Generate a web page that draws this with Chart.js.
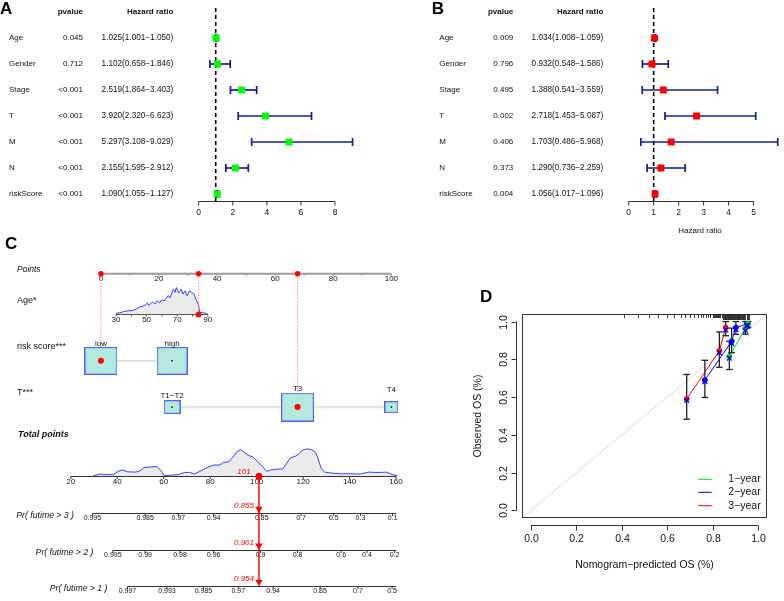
<!DOCTYPE html>
<html>
<head>
<meta charset="utf-8">
<title>Cox regression, nomogram and calibration</title>
<script src="https://cdn.jsdelivr.net/npm/chart.js@4.4.1/dist/chart.umd.min.js"></script>
<style>
  html, body { margin:0; padding:0; background:#ffffff; }
  #figure { position:relative; width:784px; height:601px; overflow:hidden; background:#ffffff; }
  #figure canvas { position:absolute; display:block; }
</style>
</head>
<body>
<div id="figure">
  <canvas id="panelA" width="392" height="230" style="left:0px;top:0px;"></canvas>
  <canvas id="panelB" width="392" height="240" style="left:392px;top:0px;"></canvas>
  <canvas id="panelC" width="420" height="371" style="left:0px;top:230px;"></canvas>
  <canvas id="panelD" width="364" height="321" style="left:420px;top:280px;"></canvas>
</div>
<script>
// ======================= DATA =======================
// Panel A / B : Cox regression
const variables = ['Age', 'Gender', 'Stage', 'T', 'M', 'N', 'riskScore'];

const uniPvalue = ['0.045', '0.712', '<0.001', '<0.001', '<0.001', '<0.001', '<0.001'];
const uniHR   = [1.025, 1.102, 2.519, 3.920, 5.297, 2.155, 1.090];
const uniLow  = [1.001, 0.658, 1.864, 2.320, 3.108, 1.595, 1.055];
const uniHigh = [1.050, 1.846, 3.403, 6.623, 9.029, 2.912, 1.127];
const uniTicks = [0, 2, 4, 6, 8];

const multiPvalue = ['0.009', '0.796', '0.495', '0.002', '0.406', '0.373', '0.004'];
const multiHR   = [1.034, 0.932, 1.388, 2.718, 1.703, 1.290, 1.056];
const multiLow  = [1.008, 0.548, 0.541, 1.453, 0.486, 0.736, 1.017];
const multiHigh = [1.059, 1.586, 3.559, 5.087, 5.968, 2.259, 1.096];
const multiTicks = [0, 1, 2, 3, 4, 5];

// Panel C : nomogram
const nomoRowNames = ['Points', 'Age*', 'risk score***', 'T***', 'Total points'];
const pointsTicks  = [0, 10, 20, 30, 40, 50, 60, 70, 80, 90, 100];
const pointsLabels = [0, 20, 40, 60, 80, 100];
const ageTicks  = [30, 40, 50, 60, 70, 80, 90];
const ageLabels = [30, 50, 70, 90];
const ageRange = [30, 90];
const agePointsRange = [5.2, 36.8];
const ageDensAge = [30, 32.5, 34.6, 37.8, 41, 43.1, 45.2, 47.3, 49.4, 50.5, 51.6, 53.7, 55.4, 56.8, 58.3, 60, 61.7, 63.2, 64.2, 65.3, 66.3, 67.4, 68.5, 69.5, 71, 72.7, 73.7, 75.2, 76.5, 78, 79.4, 81.1, 82.2, 83.7, 84.7, 86.4, 88.5, 90];
const ageDensVal = [1, 1.7, 2.7, 3.7, 4, 5.3, 7.7, 8.3, 10, 11.7, 9.3, 12.7, 10.7, 14, 12, 15, 14, 17.7, 19.3, 17, 21, 26, 22.7, 27.7, 22, 26, 21, 24.3, 19.3, 24.3, 22.7, 21, 15.3, 11, 2.7, 1.7, 1.3, 0];
const riskLevels = ['low', 'high'];
const riskPoints = [0, 24.5];
const tLevels = ['T1\u2212T2', 'T3', 'T4'];
const tPoints = [24.5, 67.7, 100];
const totalLabels = [20, 40, 60, 80, 100, 120, 140, 160];
const totDensX = [29.5, 30.5, 32.6, 35.4, 38.2, 40.3, 42.1, 44.5, 48, 50.1, 51.5, 54.3, 57.1, 58.5, 60.3, 62, 66.2, 69, 71.1, 73.2, 76, 78.8, 81.6, 84.1, 85.8, 87.9, 89.3, 91.4, 93.1, 94.5, 96.3, 98.4, 100.5, 102.6, 104.3, 106.1, 108.9, 111.3, 112.4, 114.5, 116.9, 118.3, 119.4, 121.5, 123.6, 125.3, 126.4, 127.8, 129.2, 132, 136.2, 140.4, 144.6, 148.1, 150.9, 153.7, 155.8, 158.6, 160.7];
const totDensVal = [0.3, 1, 2.3, 1.7, 1.7, 5, 6.6, 4.6, 4.3, 6, 9, 9.6, 10, 6.6, 0.6, 1, 1.7, 4, 4, 2.3, 5.6, 9.3, 11.6, 11.6, 14.3, 15, 18.3, 25, 27.6, 25, 21.6, 20, 15, 10, 5, 6.6, 7.3, 7.6, 11.6, 19, 21, 23.3, 26.6, 28.3, 27.6, 25, 18.3, 8.3, 4.3, 3.3, 2.6, 2.6, 2.3, 4.3, 4, 4, 4.3, 1.6, 0.6];
const prNames = ['Pr( futime > 3 )', 'Pr( futime > 2 )', 'Pr( futime > 1 )'];
const pr3Labels = ['0.995', '0.985', '0.97', '0.94', '0.85', '0.7', '0.5', '0.3', '0.1'];
const pr3At     = [29.3, 52.0, 66.3, 81.5, 102.2, 119.1, 133.2, 144.7, 158.5];
const pr2Labels = ['0.995', '0.99', '0.98', '0.96', '0.9', '0.8', '0.6', '0.4', '0.2'];
const pr2At     = [38.1, 52.0, 67.0, 81.5, 101.7, 117.6, 136.4, 147.5, 159.4];
const pr1Labels = ['0.997', '0.993', '0.985', '0.97', '0.94', '0.85', '0.7', '0.5'];
const pr1At     = [44.4, 61.4, 77.1, 92.1, 107.1, 127.3, 143.6, 158.3];
const exampleAge = 84;
const exampleRisk = 0;      // index into riskLevels
const exampleT = 1;         // index into tLevels
const exampleTotal = 101;
const exampleSurv = ['0.855', '0.901', '0.954'];   // 3-, 2-, 1-year

// Panel D : calibration
const calTicks = [0, 0.2, 0.4, 0.6, 0.8, 1.0];
const calNames = ['1\u2212year', '2\u2212year', '3\u2212year'];
const cal1Pred = [0.874, 0.945, 0.956];
const cal1Obs  = [0.815, 0.963, 0.988];
const cal1Corr = [0.806, 0.953, 0.979];
const cal1Low  = [0.746, 0.933, 0.970];
const cal1High = [0.895, 1.000, 1.000];
const cal2Pred = [0.766, 0.884, 0.903, 0.952];
const cal2Obs  = [0.690, 0.895, 0.968, 0.988];
const cal2Corr = [0.682, 0.885, 0.957, 0.980];
const cal2Low  = [0.598, 0.835, 0.932, 0.965];
const cal2High = [0.795, 0.965, 1.000, 1.000];
const cal3Pred = [0.686, 0.830, 0.858];
const cal3Obs  = [0.590, 0.845, 0.968];
const cal3Corr = [0.582, 0.835, 0.956];
const cal3Low  = [0.483, 0.758, 0.925];
const cal3High = [0.720, 0.945, 1.000];
const rugPred = [0.41, 0.47, 0.52, 0.56, 0.60, 0.63, 0.66, 0.68, 0.70, 0.72, 0.735, 0.75, 0.76, 0.77, 0.78, 0.79, 0.80, 0.805, 0.81, 0.815, 0.82, 0.825, 0.83, 0.835, 0.84, 0.845, 0.85, 0.853, 0.856, 0.86, 0.863, 0.866, 0.87, 0.873, 0.876, 0.88, 0.883, 0.886, 0.89, 0.893, 0.896, 0.90, 0.903, 0.906, 0.91, 0.913, 0.916, 0.92, 0.925, 0.93, 0.935, 0.94, 0.945, 0.95, 0.955, 0.96];

// ======================= STYLE / LAYOUT =======================
const FONT = '"Liberation Sans", Arial, Helvetica, sans-serif';
const INK = '#111111';
const NAVY = '#1b1b8e';
const RED = '#ff0000';
const GREEN = '#00dd00';
const BLUE = '#0000ff';

function txt(ctx, s, x, y, font, align, color) {
  ctx.font = font; ctx.textAlign = align || 'left'; ctx.textBaseline = 'middle';
  ctx.fillStyle = color || INK; ctx.fillText(s, x, y);
}
function seg(ctx, x1, y1, x2, y2, color, w, dash) {
  ctx.beginPath(); ctx.setLineDash(dash || []); ctx.strokeStyle = color; ctx.lineWidth = w;
  ctx.moveTo(x1, y1); ctx.lineTo(x2, y2); ctx.stroke(); ctx.setLineDash([]);
}
const baseOpts = { responsive:false, animation:false, devicePixelRatio:1, events:[],
  plugins:{ legend:{display:false}, tooltip:{enabled:false} } };

// ---------- Forest plots (A, B) ----------
const ROW0 = 38, ROWSTEP = 26, PLOT_TOP = 8, PLOT_BOTTOM = 201;
const forestYMin = (PLOT_TOP - ROW0) / ROWSTEP;
const forestYMax = (PLOT_BOTTOM - ROW0) / ROWSTEP;
const fmt3 = v => v.toFixed(3);

function makeForest(id, o) {
  const canvas = document.getElementById(id);
  const W = canvas.width, H = canvas.height;
  const t0 = o.ticks[0], t1 = o.ticks[o.ticks.length - 1];
  const pxPerUnit = (o.axisEnd - o.axisStart) / (t1 - t0);
  const viewMax = t0 + (o.plotRight - o.axisStart) / pxPerUnit;
  const datasets = [];
  datasets.push({ label:'HR', data:o.hr.map((v, i) => ({x:v, y:i})), pointStyle:'rect', pointRadius:4.9,
    pointBackgroundColor:o.color, pointBorderWidth:0, clip:false });
  o.low.forEach((lo, i) => datasets.push({ label:'CI ' + variables[i], showLine:true,
    data:[{x:lo, y:i}, {x:o.high[i], y:i}], borderColor:NAVY, borderWidth:1.7,
    pointStyle:'line', pointRotation:90, pointRadius:4, pointBorderColor:NAVY, pointBorderWidth:1.7, clip:false }));
  datasets.push({ label:'HR = 1', showLine:true, data:[{x:1, y:forestYMin}, {x:1, y:forestYMax}],
    borderColor:'#000', borderWidth:1.6, borderDash:[4, 3], pointRadius:0, clip:false });

  const plugin = { id:'forestText_' + id, afterDraw(chart) {
    const ctx = chart.ctx, xs = chart.scales.x, ys = chart.scales.y, ca = chart.chartArea;
    ctx.save();
    txt(ctx, o.letter, o.letterX, 9, 'bold 17px ' + FONT, 'left', '#000');
    const hy = ys.getPixelForValue(-1);
    txt(ctx, 'pvalue', o.pX, hy, 'bold 8px ' + FONT, 'right');
    txt(ctx, 'Hazard ratio', o.hrX, hy, 'bold 8px ' + FONT, 'right');
    variables.forEach((v, i) => {
      const py = ys.getPixelForValue(i);
      txt(ctx, v, o.labelX, py, '8px ' + FONT, 'left');
      txt(ctx, o.p[i], o.pX, py, '8px ' + FONT, 'right');
      txt(ctx, fmt3(o.hr[i]) + '(' + fmt3(o.low[i]) + '\u2212' + fmt3(o.high[i]) + ')', o.hrX, py, '8.2px ' + FONT, 'right');
    });
    const ay = Math.round(ca.bottom) + 0.5;
    seg(ctx, xs.getPixelForValue(t0), ay, xs.getPixelForValue(t1), ay, '#333', 1);
    o.ticks.forEach(t => {
      const px = xs.getPixelForValue(t);
      seg(ctx, px, ay, px, ay + 4, '#333', 1);
      txt(ctx, String(t), px, ay + 11.5, '8.5px ' + FONT, 'center');
    });
    if (o.xTitle) txt(ctx, o.xTitle, o.xTitleX, 231, '8px ' + FONT, 'center');
    ctx.restore();
  }};

  new Chart(canvas, { type:'scatter', data:{ datasets }, plugins:[plugin],
    options:Object.assign({}, baseOpts, {
      layout:{ padding:{ left:o.axisStart, right:W - o.plotRight, top:PLOT_TOP, bottom:H - PLOT_BOTTOM } },
      scales:{
        x:{ type:'linear', display:false, bounds:'data', min:t0, max:viewMax },
        y:{ type:'linear', display:false, bounds:'data', reverse:true, min:forestYMin, max:forestYMax }
      } }) });
}

makeForest('panelA', { letter:'A', letterX:0, labelX:9, pX:83, hrX:173.3,
  p:uniPvalue, hr:uniHR, low:uniLow, high:uniHigh, ticks:uniTicks, color:'#00ff00',
  axisStart:198.7, axisEnd:335, plotRight:380 });
makeForest('panelB', { letter:'B', letterX:39.7, labelX:47.3, pX:121.3, hrX:211.3,
  p:multiPvalue, hr:multiHR, low:multiLow, high:multiHigh, ticks:multiTicks, color:'#ff0000',
  axisStart:236.7, axisEnd:366.3, plotRight:392, xTitle:'Hazard ratio', xTitleX:308 });

// ---------- Nomogram (C) ----------
const CW = 420, CH = 371, CTOP = 230;
const LC = { pts0:97.7, pts100:396.7, tot20:66.7, tot160:401.5,
  yPoints:269, yAge:311, yRisk:359, yT:406.8, yTot:478.3, yPr:[516, 554, 591.5],
  prNameRight:[74, 93.3, 107.5],
  labelX:17, rowLabelY:[265, 297, 344, 392, 434.7],
  riskLabelY:[341.7, 341.7], tLabelY:[395, 387.5, 388.7] };
const riskBoxSize = [[33, 28], [31, 28]];
const tBoxSize = [[17, 14], [33, 29], [14, 12]];
const prSets = [[pr3Labels, pr3At], [pr2Labels, pr2At], [pr1Labels, pr1At]];

const agePts = a => agePointsRange[0] + (a - ageRange[0]) * (agePointsRange[1] - agePointsRange[0]) / (ageRange[1] - ageRange[0]);
const ageAtPts = p => ageRange[0] + (p - agePointsRange[0]) * (ageRange[1] - ageRange[0]) / (agePointsRange[1] - agePointsRange[0]);
const ppp = (LC.pts100 - LC.pts0) / (pointsTicks[pointsTicks.length - 1] - pointsTicks[0]);
const cxMin = pointsTicks[0] - LC.pts0 / ppp, cxMax = pointsTicks[0] + (CW - LC.pts0) / ppp;
const tpp = (LC.tot160 - LC.tot20) / (totalLabels[totalLabels.length - 1] - totalLabels[0]);
const ctMin = totalLabels[0] - LC.tot20 / tpp, ctMax = totalLabels[0] + (CW - LC.tot20) / tpp;

function boxImage(w, h) {
  const c = document.createElement('canvas'); c.width = w; c.height = h;
  const g = c.getContext('2d');
  g.fillStyle = '#b4e9df'; g.fillRect(0, 0, w, h);
  g.strokeStyle = '#5263f2'; g.lineWidth = 1.2; g.strokeRect(0.6, 0.6, w - 1.2, h - 1.2);
  return c;
}

const dsC = [
  { label:'points chosen', data:[{x:riskPoints[exampleRisk], y:LC.yPoints}, {x:agePts(exampleAge), y:LC.yPoints}, {x:tPoints[exampleT], y:LC.yPoints}],
    pointRadius:2.7, pointBackgroundColor:RED, pointBorderWidth:0 },
  { label:'age chosen', xAxisID:'xAge', data:[{x:exampleAge, y:LC.yAge}], pointRadius:2.9, pointBackgroundColor:RED, pointBorderWidth:0 },
  { label:'factor chosen', data:[{x:riskPoints[exampleRisk], y:LC.yRisk}, {x:tPoints[exampleT], y:LC.yT}], pointRadius:3, pointBackgroundColor:RED, pointBorderWidth:0 },
  { label:'total chosen', xAxisID:'xTot', data:[{x:exampleTotal, y:LC.yTot}], pointRadius:3.5, pointBackgroundColor:RED, pointBorderWidth:0 },
  { label:'arrow heads', xAxisID:'xTot', data:LC.yPr.map(py => ({x:exampleTotal, y:py - 4})), pointStyle:'triangle', pointRotation:180,
    pointRadius:4.3, pointBackgroundColor:RED, pointBorderWidth:0 },
  { label:'arrow', xAxisID:'xTot', showLine:true, data:[{x:exampleTotal, y:LC.yTot}, {x:exampleTotal, y:LC.yPr[2] - 2}],
    borderColor:RED, borderWidth:1.4, pointRadius:0 },
  { label:'centres', data:riskPoints.map(p => ({x:p, y:LC.yRisk})).concat(tPoints.map(p => ({x:p, y:LC.yT}))),
    pointRadius:0.9, pointBackgroundColor:'#111', pointBorderWidth:0 },
  { label:'risk boxes', data:riskPoints.map(p => ({x:p, y:LC.yRisk})), pointStyle:riskBoxSize.map(s => boxImage(s[0], s[1])), pointRadius:5 },
  { label:'T boxes', data:tPoints.map(p => ({x:p, y:LC.yT})), pointStyle:tBoxSize.map(s => boxImage(s[0], s[1])), pointRadius:5 },
  { label:'risk link', showLine:true, data:[{x:riskPoints[0], y:LC.yRisk}, {x:riskPoints[riskPoints.length - 1], y:LC.yRisk}],
    borderColor:'#d0d0d0', borderWidth:1.3, pointRadius:0 },
  { label:'T link', showLine:true, data:[{x:tPoints[0], y:LC.yT}, {x:tPoints[tPoints.length - 1], y:LC.yT}],
    borderColor:'#e4e4e4', borderWidth:2.5, pointRadius:0 },
  { label:'guide risk', showLine:true, data:[{x:riskPoints[exampleRisk], y:LC.yPoints}, {x:riskPoints[exampleRisk], y:LC.yRisk}],
    borderColor:'#ff8a8a', borderWidth:1, borderDash:[1.5, 1.5], pointRadius:0 },
  { label:'guide age', xAxisID:'xAge', showLine:true, data:[{x:exampleAge, y:LC.yPoints}, {x:exampleAge, y:LC.yAge}],
    borderColor:'#ff8a8a', borderWidth:1, borderDash:[1.5, 1.5], pointRadius:0 },
  { label:'guide T', showLine:true, data:[{x:tPoints[exampleT], y:LC.yPoints}, {x:tPoints[exampleT], y:LC.yT}],
    borderColor:'#ff8a8a', borderWidth:1, borderDash:[1.5, 1.5], pointRadius:0 },
  { type:'line', label:'age density', xAxisID:'xAge', yAxisID:'yAgeD', data:ageDensAge.map((a, i) => ({x:a, y:ageDensVal[i]})),
    fill:'origin', backgroundColor:'#ebebeb', borderColor:'#3c3cff', borderWidth:1, pointRadius:0, tension:0 },
  { type:'line', label:'total density', xAxisID:'xTot', yAxisID:'yTotD', data:totDensX.map((t, i) => ({x:t, y:totDensVal[i]})),
    fill:'origin', backgroundColor:'#ebebeb', borderColor:'#3c3cff', borderWidth:1, pointRadius:0, tension:0 }
];
const AXES_AFTER_INDEX = dsC.length - 2;   // age density is drawn second (after total density)

function drawNomoAxes(chart) {
  const ctx = chart.ctx, s = chart.scales;
  const sx = s.x, sa = s.xAge, st = s.xTot, sy = s.y;
  ctx.save();
  // Points
  const yP = sy.getPixelForValue(LC.yPoints);
  seg(ctx, sx.getPixelForValue(pointsTicks[0]), yP, sx.getPixelForValue(pointsTicks[pointsTicks.length - 1]), yP, '#9a9a9a', 2);
  pointsTicks.forEach(v => { const px = sx.getPixelForValue(v); seg(ctx, px, yP, px, yP + 2.5, '#9a9a9a', 1); });
  pointsLabels.forEach(v => txt(ctx, String(v), sx.getPixelForValue(v), yP + 5.5, '8px ' + FONT, 'center'));
  // Age
  const yA = Math.round(sy.getPixelForValue(LC.yAge)) + 0.5;
  seg(ctx, sa.getPixelForValue(ageTicks[0]), yA, sa.getPixelForValue(ageTicks[ageTicks.length - 1]), yA, '#555', 1);
  ageTicks.forEach(v => { const px = sa.getPixelForValue(v); seg(ctx, px, yA, px, yA + 2, '#555', 1); });
  ageLabels.forEach(v => txt(ctx, String(v), sa.getPixelForValue(v), yA + 5.5, '8px ' + FONT, 'center'));
  // Total points
  const yTt = Math.round(sy.getPixelForValue(LC.yTot)) + 0.5;
  seg(ctx, st.getPixelForValue(totalLabels[0]), yTt, st.getPixelForValue(totalLabels[totalLabels.length - 1]), yTt, '#333', 1);
  totalLabels.forEach(v => { const px = st.getPixelForValue(v); seg(ctx, px, yTt, px, yTt + 2.5, '#333', 1);
    txt(ctx, String(v), px, yTt + 5, '8px ' + FONT, 'center'); });
  // Survival probability axes
  prSets.forEach((set, k) => {
    const labs = set[0], at = set[1];
    const py = Math.round(sy.getPixelForValue(LC.yPr[k])) + 0.5;
    const x0 = st.getPixelForValue(at[0]);
    seg(ctx, x0, py, st.getPixelForValue(totalLabels[totalLabels.length - 1]), py, '#333', 1);
    at.forEach((v, i) => { const px = st.getPixelForValue(v); seg(ctx, px, py, px, py + 2.5, '#333', 1);
      txt(ctx, labs[i], px, py + 5, '7px ' + FONT, 'center'); });
    txt(ctx, prNames[k], LC.prNameRight[k], py + 2, 'italic 8.7px ' + FONT, 'right');
  });
  ctx.restore();
}

const nomoPlugin = { id:'nomo',
  afterDatasetDraw(chart, args) { if (args.index === AXES_AFTER_INDEX) drawNomoAxes(chart); },
  afterDraw(chart) {
    const ctx = chart.ctx, s = chart.scales, sx = s.x, st = s.xTot, sy = s.y;
    ctx.save();
    txt(ctx, 'C', 5, 14, 'bold 17px ' + FONT, 'left', '#000');
    const fonts = ['italic 8.5px ', '9px ', '9px ', '9px ', 'bold italic 9px '];
    nomoRowNames.forEach((n, i) => txt(ctx, n, LC.labelX + (i === 4 ? 1 : 0), sy.getPixelForValue(LC.rowLabelY[i]), fonts[i] + FONT, 'left'));
    riskLevels.forEach((n, i) => txt(ctx, n, sx.getPixelForValue(riskPoints[i]), sy.getPixelForValue(LC.riskLabelY[i]), '8px ' + FONT, 'center'));
    tLevels.forEach((n, i) => txt(ctx, n, sx.getPixelForValue(tPoints[i]), sy.getPixelForValue(LC.tLabelY[i]), '8px ' + FONT, 'center'));
    const ax = st.getPixelForValue(exampleTotal) - 15;
    txt(ctx, String(exampleTotal), ax, sy.getPixelForValue(LC.yTot) - 4.5, 'italic 8px ' + FONT, 'center', RED);
    exampleSurv.forEach((v, k) => txt(ctx, v, ax, sy.getPixelForValue(LC.yPr[k]) - 7, 'italic 8px ' + FONT, 'center', RED));
    ctx.restore();
  } };

new Chart(document.getElementById('panelC'), { type:'scatter', data:{ datasets:dsC }, plugins:[nomoPlugin],
  options:Object.assign({}, baseOpts, {
    layout:{ padding:0 },
    scales:{
      x:{ type:'linear', display:false, bounds:'data', min:cxMin, max:cxMax },
      xAge:{ type:'linear', axis:'x', position:'bottom', display:false, bounds:'data', min:ageAtPts(cxMin), max:ageAtPts(cxMax) },
      xTot:{ type:'linear', axis:'x', position:'bottom', display:false, bounds:'data', min:ctMin, max:ctMax },
      y:{ type:'linear', display:false, bounds:'data', reverse:true, min:CTOP, max:CTOP + CH },
      yAgeD:{ type:'linear', axis:'y', position:'left', display:false, bounds:'data', min:(LC.yAge - CTOP) - CH, max:(LC.yAge - CTOP) },
      yTotD:{ type:'linear', axis:'y', position:'left', display:false, bounds:'data', min:(LC.yTot - CTOP) - CH, max:(LC.yTot - CTOP) }
    } }) });

// ---------- Calibration (D) ----------
const calSets = [
  { color:GREEN, pred:cal1Pred, obs:cal1Obs, corr:cal1Corr, lo:cal1Low, hi:cal1High },
  { color:BLUE,  pred:cal2Pred, obs:cal2Obs, corr:cal2Corr, lo:cal2Low, hi:cal2High },
  { color:RED,   pred:cal3Pred, obs:cal3Obs, corr:cal3Corr, lo:cal3Low, hi:cal3High }
];
const dsD = [];
calSets.forEach(c => dsD.push({ label:'corrected', data:c.pred.map((p, i) => ({x:p, y:c.corr[i]})), pointStyle:'crossRot',
  pointRadius:3.4, pointBorderColor:BLUE, pointBorderWidth:1.3 }));
calSets.forEach(c => dsD.push({ label:'apparent', data:c.pred.map((p, i) => ({x:p, y:c.obs[i]})), pointStyle:'circle',
  pointRadius:2.8, pointBackgroundColor:c.color, pointBorderWidth:0 }));
calSets.forEach(c => c.pred.forEach((p, i) => dsD.push({ label:'error bar', showLine:true,
  data:[{x:p, y:c.lo[i]}, {x:p, y:c.hi[i]}], borderColor:'#222', borderWidth:1.3,
  pointStyle:'line', pointRadius:3.3, pointBorderColor:'#222', pointBorderWidth:1.3 })));
calSets.forEach(c => dsD.push({ label:'line', showLine:true, data:c.pred.map((p, i) => ({x:p, y:c.obs[i]})),
  borderColor:c.color, borderWidth:1, pointRadius:0 }));
dsD.push({ label:'ideal', showLine:true, data:[{x:-0.04, y:-0.04}, {x:1.04, y:1.04}], borderColor:'#dcdcdc', borderWidth:1, pointRadius:0 });

const calPlugin = { id:'cal', afterDraw(chart) {
  const ctx = chart.ctx, ca = chart.chartArea, xs = chart.scales.x, ys = chart.scales.y;
  ctx.save();
  ctx.strokeStyle = '#333'; ctx.lineWidth = 1;
  ctx.strokeRect(Math.round(ca.left) + 0.5, Math.round(ca.top) + 0.5, Math.round(ca.right - ca.left) - 1, Math.round(ca.bottom - ca.top) - 1);
  rugPred.forEach(v => { const px = Math.round(xs.getPixelForValue(v)) + 0.5; seg(ctx, px, ca.top, px, ca.top + (v > 0.84 ? 6 : 4), '#222', 0.9); });
  const axX = Math.round(ca.left - 6) + 0.5;
  seg(ctx, axX, ys.getPixelForValue(calTicks[0]), axX, ys.getPixelForValue(calTicks[calTicks.length - 1]), '#333', 1);
  calTicks.forEach(v => {
    const py = Math.round(ys.getPixelForValue(v)) + 0.5;
    seg(ctx, axX - 5, py, axX, py, '#333', 1);
    ctx.save(); ctx.translate(axX - 12, py); ctx.rotate(-Math.PI / 2);
    txt(ctx, v.toFixed(1), 0, 0, '10.5px ' + FONT, 'center'); ctx.restore();
  });
  const axY = Math.round(ca.bottom + 7) + 0.5;
  seg(ctx, xs.getPixelForValue(calTicks[0]), axY, xs.getPixelForValue(calTicks[calTicks.length - 1]), axY, '#333', 1);
  calTicks.forEach(v => {
    const px = Math.round(xs.getPixelForValue(v)) + 0.5;
    seg(ctx, px, axY, px, axY + 5, '#333', 1);
    txt(ctx, v.toFixed(1), px, axY + 13.5, '10.5px ' + FONT, 'center');
  });
  txt(ctx, 'Nomogram\u2212predicted OS (%)', (ca.left + ca.right) / 2, 285, '10.5px ' + FONT, 'center');
  ctx.save(); ctx.translate(58, (ca.top + ca.bottom) / 2); ctx.rotate(-Math.PI / 2);
  txt(ctx, 'Observed OS (%)', 0, 0, '10.5px ' + FONT, 'center'); ctx.restore();
  const legY = [199.3, 212.3, 225.7];
  calSets.forEach((c, i) => { seg(ctx, 278.3, legY[i], 291.7, legY[i], c.color, 1); txt(ctx, calNames[i], 308.3, legY[i], '10.5px ' + FONT, 'left'); });
  txt(ctx, 'D', 60, 17, 'bold 17px ' + FONT, 'left', '#000');
  ctx.restore();
} };

new Chart(document.getElementById('panelD'), { type:'scatter', data:{ datasets:dsD }, plugins:[calPlugin],
  options:Object.assign({}, baseOpts, {
    layout:{ padding:{ left:102, right:17, top:34, bottom:83 } },
    scales:{
      x:{ type:'linear', display:false, bounds:'data', min:-0.04, max:1.04 },
      y:{ type:'linear', display:false, bounds:'data', min:-0.04, max:1.04 }
    } }) });
</script>
</body>
</html>
